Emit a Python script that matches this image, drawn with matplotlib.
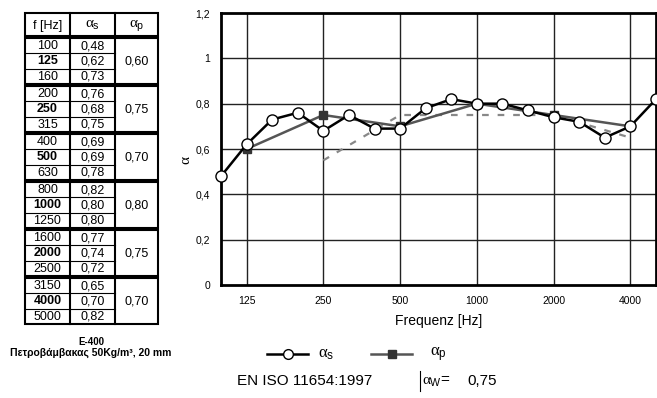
import matplotlib
matplotlib.use("Agg")
import matplotlib.pyplot as plt
import numpy as np

plt.rcParams['font.family'] = ['Liberation Sans', 'DejaVu Sans']
plt.rcParams['mathtext.fontset'] = 'custom'
plt.rcParams['mathtext.it'] = 'Liberation Serif'
plt.rcParams['mathtext.rm'] = 'Liberation Serif'
plt.rcParams['mathtext.sf'] = 'Liberation Sans'

# ---------------- data ----------------
freqs = [100, 125, 160, 200, 250, 315, 400, 500, 630, 800, 1000, 1250,
         1600, 2000, 2500, 3150, 4000, 5000]
alpha_s = [0.48, 0.62, 0.73, 0.76, 0.68, 0.75, 0.69, 0.69, 0.78, 0.82,
           0.80, 0.80, 0.77, 0.74, 0.72, 0.65, 0.70, 0.82]
octave_freqs = [125, 250, 500, 1000, 2000, 4000]
alpha_p = [0.60, 0.75, 0.70, 0.80, 0.75, 0.70]
ref_freqs = [250, 500, 1000, 2000, 4000]
ref_curve = [0.55, 0.75, 0.75, 0.75, 0.65]
yticks = [0, 0.2, 0.4, 0.6, 0.8, 1.0, 1.2]
ytick_labels = ["0", "0,2", "0,4", "0,6", "0,8", "1", "1,2"]
alpha_w = "0,75"

idx = {f: i for i, f in enumerate(freqs)}
xs = np.arange(len(freqs))
xp = [idx[f] for f in octave_freqs]
xr = [idx[f] for f in ref_freqs]

fig = plt.figure(figsize=(6.57, 3.98), dpi=100)

# ---------------- chart ----------------
ax = fig.add_axes([221/657, 113/398, 435/657, 272/398])
ax.set_xlim(0, 17)
ax.set_ylim(0, 1.2)
for x in xp:
    ax.axvline(x, color='#222222', lw=1.0, zorder=1)
for y in yticks[1:-1]:
    ax.axhline(y, color='#222222', lw=1.0, zorder=1)

ax.plot(xr, ref_curve, color='#888888', lw=1.6, ls=(0, (3, 4)), zorder=2)
ax.plot(xp, alpha_p, color='#555555', lw=1.8, marker='s', ms=6,
        mfc='#333333', mec='#333333', zorder=3)
ax.plot(xs, alpha_s, color='black', lw=1.8, marker='o', ms=8,
        mfc='white', mec='black', mew=1.0, zorder=4, clip_on=False)

ax.set_xticks(xp)
ax.set_xticklabels([str(f) for f in octave_freqs])
ax.set_yticks(yticks)
ax.set_yticklabels(ytick_labels)
ax.tick_params(length=0, labelsize=7.5, pad=8)
ax.tick_params(axis='x', pad=8)
for s in ax.spines.values():
    s.set_linewidth(2)
ax.set_xlabel("Frequenz [Hz]", fontsize=10, labelpad=6)

# ---------------- overlay (table, legend, captions) ----------------
ov = fig.add_axes([0, 0, 1, 1], zorder=-1)
ov.set_xlim(0, 657)
ov.set_ylim(398, 0)
ov.axis('off')

fig.text(186/657, 1 - 160/398, r'$\alpha$', rotation=90, fontsize=11,
         ha='center', va='center')

cols = [25, 70, 115, 158]
hdr_top, hdr_bot = 13, 36
ov.add_patch(plt.Rectangle((cols[0], hdr_top), cols[3] - cols[0], hdr_bot - hdr_top,
                           fill=False, lw=1.5, ec='black'))
for c in cols[1:3]:
    ov.plot([c, c], [hdr_top, hdr_bot], color='black', lw=1.5)
headers = ["f [Hz]", r'$\alpha_{\mathsf{s}}$', r'$\alpha_{\mathsf{p}}$']
for k, h in enumerate(headers):
    ov.text((cols[k] + cols[k+1]) / 2, (hdr_top + hdr_bot) / 2 + 1, h,
            ha='center', va='center', fontsize=9 if k == 0 else 11)

g_top = 38
g_h = 48
row_h = 15.3
for g in range(6):
    top = g_top + g * g_h
    bot = top + 3 * row_h
    ov.add_patch(plt.Rectangle((cols[0], top), cols[3] - cols[0], bot - top,
                               fill=False, lw=1.5, ec='black'))
    for c in cols[1:3]:
        ov.plot([c, c], [top, bot], color='black', lw=1.5)
    for r in range(1, 3):
        ov.plot([cols[0], cols[2]], [top + r * row_h] * 2, color='black', lw=0.8)
    for r in range(3):
        i = g * 3 + r
        yc = top + (r + 0.5) * row_h + 0.5
        bold = (freqs[i] in octave_freqs)
        ov.text((cols[0] + cols[1]) / 2, yc, str(freqs[i]), ha='center', va='center',
                fontsize=9, fontweight='bold' if bold else 'normal')
        ov.text((cols[1] + cols[2]) / 2, yc, ("%.2f" % alpha_s[i]).replace('.', ','),
                ha='center', va='center', fontsize=9)
    ov.text((cols[2] + cols[3]) / 2, (top + bot) / 2 + 0.5,
            ("%.2f" % alpha_p[g]).replace('.', ','), ha='center', va='center', fontsize=9)

ov.text(91, 342, "E-400", ha='center', va='center', fontsize=7, fontweight='bold')
ov.text(91, 353, "Πετροβάμβακας 50Kg/m³, 20 mm", ha='center', va='center',
        fontsize=7.5, fontweight='bold')

# legend
ov.plot([267, 308], [354, 354], color='black', lw=1.8)
ov.plot([288], [354], marker='o', ms=7, mfc='white', mec='black', mew=1.0)
ov.text(318, 355, r'$\alpha_{\mathsf{s}}$', ha='left', va='center', fontsize=12)
ov.plot([371, 412], [354, 354], color='#555555', lw=1.8)
ov.plot([392], [354], marker='s', ms=5.5, mfc='#333333', mec='#333333')
ov.text(430, 355, r'$\alpha_{\mathsf{p}}$', ha='left', va='center', fontsize=12)

ov.text(237, 381, "EN ISO 11654:1997", ha='left', va='center', fontsize=11)
ov.plot([420, 420], [371, 391], color='black', lw=0.8)
ov.text(422, 382, r'$\alpha_{\mathsf{W}}$=', ha='left', va='center', fontsize=11)
ov.text(467, 381, alpha_w, ha='left', va='center', fontsize=11)

fig.savefig("out.png", dpi=100)
